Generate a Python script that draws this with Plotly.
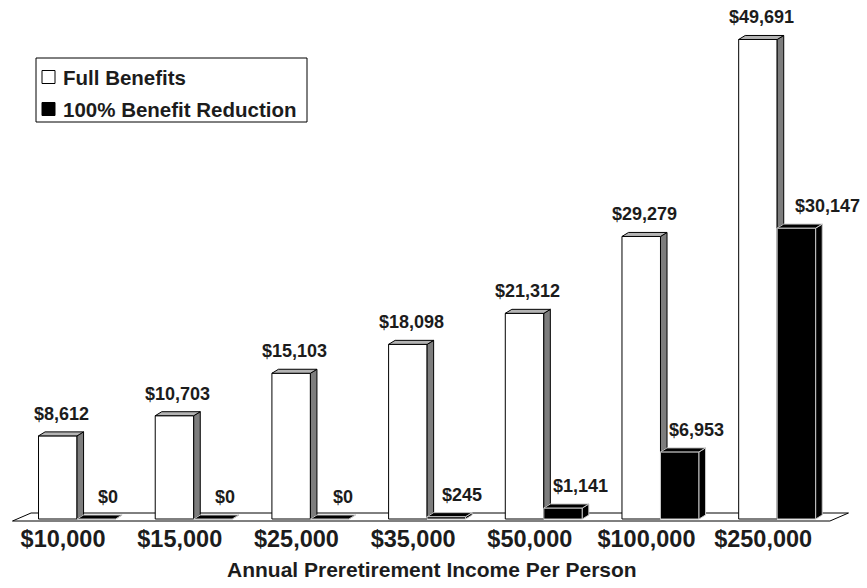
import plotly.graph_objects as go

# ---- data -------------------------------------------------------------
incomes = ["$10,000", "$15,000", "$25,000", "$35,000", "$50,000", "$100,000", "$250,000"]
full_benefits = [8612, 10703, 15103, 18098, 21312, 29279, 49691]
benefit_reduction = [0, 0, 0, 245, 1141, 6953, 30147]
series_names = ["Full Benefits", "100% Benefit Reduction"]
axis_title = "Annual Preretirement Income Per Person"

# ---- layout constants ---------------------------------------------------
W, H = 867, 588
M_L, M_R, M_T, M_B = 9, 17, 5, 66
PW, PH = W - M_L - M_R, H - M_T - M_B
X_RANGE = [-0.583, 6.624]
Y_RANGE = [-311, 53264]

BW = 0.33          # width of one bar (category units)
DX, DY = 0.056, 415  # 3-D depth offset of each bar
FLOOR_X0, FLOOR_X1 = -0.553, 6.452
FLOOR_DX = 0.159
FLOOR_Y_FRONT, FLOOR_Y_BACK = -207, 622
TICK_SHIFT = -0.12

FONT = "Liberation Sans, Arial, sans-serif"
INK = "#1c1c1c"
SIDE_GRAY = "#7d7d7d"
TOP_GRAY = "#b4b4b4"
DARK_EDGE = "#c8c8c8"
RED_LABEL_XSHIFT = [8, 9, 10, 12, 14, 13, 28]

idx = list(range(len(incomes)))


def px_x(p):
    return (p - M_L) / PW


def px_y(p):
    return 1 - (p - M_T) / PH


def poly_trace(polys, fill, edge):
    xs, ys = [], []
    for pts in polys:
        for x, y in pts + [pts[0]]:
            xs.append(x)
            ys.append(y)
        xs.append(None)
        ys.append(None)
    return go.Scatter(x=xs, y=ys, mode="lines", fill="toself", fillcolor=fill,
                      line=dict(color=edge, width=1), hoverinfo="skip",
                      showlegend=False)


fig = go.Figure()

# front faces of the columns
fig.add_trace(go.Bar(x=idx, y=full_benefits, width=BW, offset=-BW,
                     name=series_names[0], marker=dict(color="white",
                     line=dict(color="black", width=1)), showlegend=False))
fig.add_trace(go.Bar(x=idx, y=benefit_reduction, width=BW, offset=0,
                     name=series_names[1], marker=dict(color="black",
                     line=dict(color=DARK_EDGE, width=1)), showlegend=False))

# depth faces
full_side, full_top, red_side, red_top = [], [], [], []
for i, vf, vb in zip(idx, full_benefits, benefit_reduction):
    x0, x1 = i - BW, i
    low = min(vb, vf)
    full_side.append([(x1, low), (x1, vf), (x1 + DX, vf + DY), (x1 + DX, low + DY)])
    full_top.append([(x0, vf), (x1, vf), (x1 + DX, vf + DY), (x0 + DX, vf + DY)])
    r0, r1 = i, i + BW
    red_side.append([(r1, 0), (r1, vb), (r1 + DX, vb + DY), (r1 + DX, DY)])
    red_top.append([(r0, vb), (r1, vb), (r1 + DX, vb + DY), (r0 + DX, vb + DY)])

fig.add_trace(poly_trace(full_side, SIDE_GRAY, "black"))
fig.add_trace(poly_trace(full_top, TOP_GRAY, "black"))
fig.add_trace(poly_trace(red_side, "black", DARK_EDGE))
fig.add_trace(poly_trace(red_top, "black", DARK_EDGE))

# floor of the 3-D chart
floor_path = (f"M {FLOOR_X0},{FLOOR_Y_FRONT} L {FLOOR_X1},{FLOOR_Y_FRONT} "
              f"L {FLOOR_X1 + FLOOR_DX},{FLOOR_Y_BACK} L {FLOOR_X0 + FLOOR_DX},{FLOOR_Y_BACK} Z")
shapes = [dict(type="path", path=floor_path, xref="x", yref="y", layer="below",
               fillcolor="white", line=dict(color="black", width=1))]

annotations = []
label_font = dict(family=FONT, size=18, color=INK, weight="bold")
for i, v in zip(idx, full_benefits):
    annotations.append(dict(x=i - BW / 2 + DX / 2, y=v + DY, xref="x", yref="y",
                            text=f"${v:,}", showarrow=False, yanchor="bottom",
                            yshift=6, font=label_font))
for i, v, xs in zip(idx, benefit_reduction, RED_LABEL_XSHIFT):
    annotations.append(dict(x=i + BW / 2 + DX / 2, y=v + DY, xref="x", yref="y",
                            text=f"${v:,}", showarrow=False, yanchor="bottom",
                            yshift=6, xshift=xs, font=label_font))

# axis title
annotations.append(dict(x=px_x(432), y=px_y(569), xref="paper", yref="paper",
                        text=axis_title, showarrow=False, yanchor="middle",
                        font=dict(family=FONT, size=21, color=INK, weight="bold")))

# legend box
shapes.append(dict(type="rect", xref="paper", yref="paper",
                   x0=px_x(36), x1=px_x(307), y0=px_y(58), y1=px_y(122),
                   fillcolor="white", line=dict(color="black", width=1)))
legend_rows = [(series_names[0], "white", 77), (series_names[1], "black", 109)]
for name, color, cy in legend_rows:
    shapes.append(dict(type="rect", xref="paper", yref="paper",
                       x0=px_x(42), x1=px_x(55), y0=px_y(cy - 6.5), y1=px_y(cy + 6.5),
                       fillcolor=color, line=dict(color="black", width=1)))
    annotations.append(dict(x=px_x(61), y=px_y(cy), xref="paper", yref="paper",
                            text=name, showarrow=False, xanchor="left", yanchor="middle",
                            font=dict(family=FONT, size=20.5, color=INK, weight="bold")))

fig.update_layout(
    width=W, height=H,
    margin=dict(l=M_L, r=M_R, t=M_T, b=M_B),
    paper_bgcolor="white", plot_bgcolor="white",
    barmode="overlay", showlegend=False,
    shapes=shapes, annotations=annotations,
    xaxis=dict(range=X_RANGE, tickvals=[i + TICK_SHIFT for i in idx], ticktext=incomes,
               showgrid=False, zeroline=False, showline=False, ticks="",
               tickfont=dict(family=FONT, size=23.5, color=INK, weight="bold")),
    yaxis=dict(range=Y_RANGE, visible=False, showgrid=False, zeroline=False),
)

fig.write_html("out.html")
